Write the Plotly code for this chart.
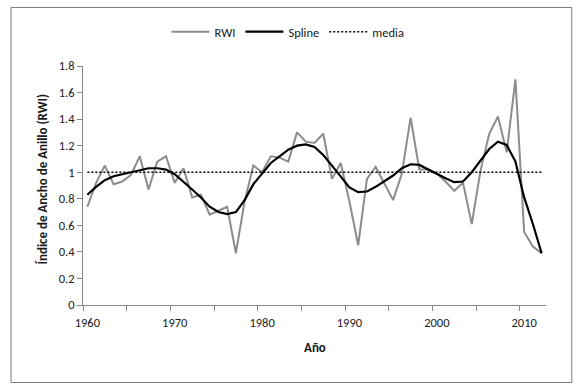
import plotly.graph_objects as go

years = list(range(1960, 2013))
rwi = [0.74, 0.92, 1.05, 0.91, 0.93, 0.98, 1.12, 0.87, 1.08, 1.12,
       0.92, 1.03, 0.81, 0.83, 0.68, 0.71, 0.74, 0.39, 0.78, 1.05,
       1.00, 1.12, 1.11, 1.08, 1.30, 1.23, 1.22, 1.29, 0.95, 1.07,
       0.78, 0.45, 0.95, 1.04, 0.92, 0.79, 0.99, 1.41, 1.02, 1.02,
       0.99, 0.93, 0.86, 0.92, 0.61, 1.01, 1.29, 1.42, 1.15, 1.70,
       0.55, 0.44, 0.39]
spline = [0.83, 0.89, 0.94, 0.97, 0.985, 1.00, 1.02, 1.03, 1.03, 1.02,
          0.985, 0.93, 0.87, 0.81, 0.74, 0.70, 0.685, 0.70, 0.79, 0.91,
          0.99, 1.07, 1.12, 1.17, 1.20, 1.21, 1.19, 1.13, 1.05, 0.97,
          0.885, 0.85, 0.855, 0.89, 0.93, 0.975, 1.03, 1.06, 1.055, 1.02,
          0.985, 0.955, 0.925, 0.93, 1.00, 1.09, 1.175, 1.23, 1.205, 1.08,
          0.81, 0.61, 0.39]
media = [1.0] * len(years)
decade_labels = ["1960", "1970", "1980", "1990", "2000", "2010"]
y_ticks = [0, 0.2, 0.4, 0.6, 0.8, 1.0, 1.2, 1.4, 1.6, 1.8]

# category-centred positions (Excel line chart: points between tick marks)
xs = [y + 0.5 for y in years]
label_pos = [int(t) + 0.5 for t in decade_labels]

FONT = "Carlito, Calibri, Lato, sans-serif"
AX = "#868686"

fig = go.Figure()
fig.add_trace(go.Scatter(x=xs, y=rwi, mode="lines", name="RWI",
                         line=dict(color="#8c8c8c", width=2)))
fig.add_trace(go.Scatter(x=xs, y=spline, mode="lines", name="Spline",
                         line=dict(color="#000000", width=2.2)))
fig.add_trace(go.Scatter(x=xs, y=media, mode="lines", name="media",
                         line=dict(color="#000000", width=1.5, dash="2px,2px")))

L, R, T, B = 82.5, 545.7, 66, 305
W, H = 580, 386
pw, ph = R - L, B - T

def px_x(p):
    return (p - L) / pw

def px_y(p):
    return (B - p) / ph

fig.update_layout(
    width=W, height=H,
    margin=dict(l=L, r=W - R, t=T, b=H - B, pad=0),
    paper_bgcolor="white", plot_bgcolor="white",
    font=dict(family=FONT, size=12, color="#1a1a1a"),
    showlegend=True,
    legend=dict(orientation="h", x=px_x(166), xanchor="left",
                y=px_y(32), yanchor="middle",
                font=dict(family=FONT, size=12.5, color="#1a1a1a"),
                bgcolor="rgba(0,0,0,0)", itemwidth=38, tracegroupgap=0),
    xaxis=dict(range=[1960, 2013], tickmode="array", tickvals=label_pos,
               ticktext=decade_labels, ticks="outside", ticklen=6,
               tickcolor="rgba(0,0,0,0)", showline=True, linecolor=AX,
               linewidth=1, showgrid=False, zeroline=False,
               tickfont=dict(size=12.5),
               minor=dict(tickmode="linear", tick0=1960, dtick=5,
                          ticks="outside", ticklen=5, tickcolor=AX,
                          showgrid=False)),
    yaxis=dict(range=[0, 1.8], tickmode="array", tickvals=y_ticks,
               ticktext=[("%g" % v) for v in y_ticks],
               ticks="outside", ticklen=5, tickcolor=AX, showline=True,
               tickfont=dict(size=12.5),
               linecolor=AX, linewidth=1, showgrid=False, zeroline=False),
    annotations=[
        dict(text="<b>Índice de Ancho de Anillo (RWI)</b>", xref="paper",
             yref="paper", x=px_x(41), y=px_y(179), textangle=-90,
             showarrow=False, font=dict(family=FONT, size=13, color="#1a1a1a"),
             xanchor="center", yanchor="middle"),
        dict(text="<b>Año</b>", xref="paper", yref="paper",
             x=px_x(315), y=px_y(347), showarrow=False,
             font=dict(family=FONT, size=13, color="#1a1a1a"),
             xanchor="center", yanchor="middle"),
    ],
    shapes=[dict(type="rect", xref="paper", yref="paper",
                 x0=px_x(10.5), x1=px_x(571.5), y0=px_y(382.5), y1=px_y(7.5),
                 line=dict(color="#7f7f7f", width=1), fillcolor="rgba(0,0,0,0)",
                 layer="above")],
)

fig.write_html("out.html", config={"displayModeBar": False},
               post_script="document.body.style.margin='0';document.body.style.padding='0';")
